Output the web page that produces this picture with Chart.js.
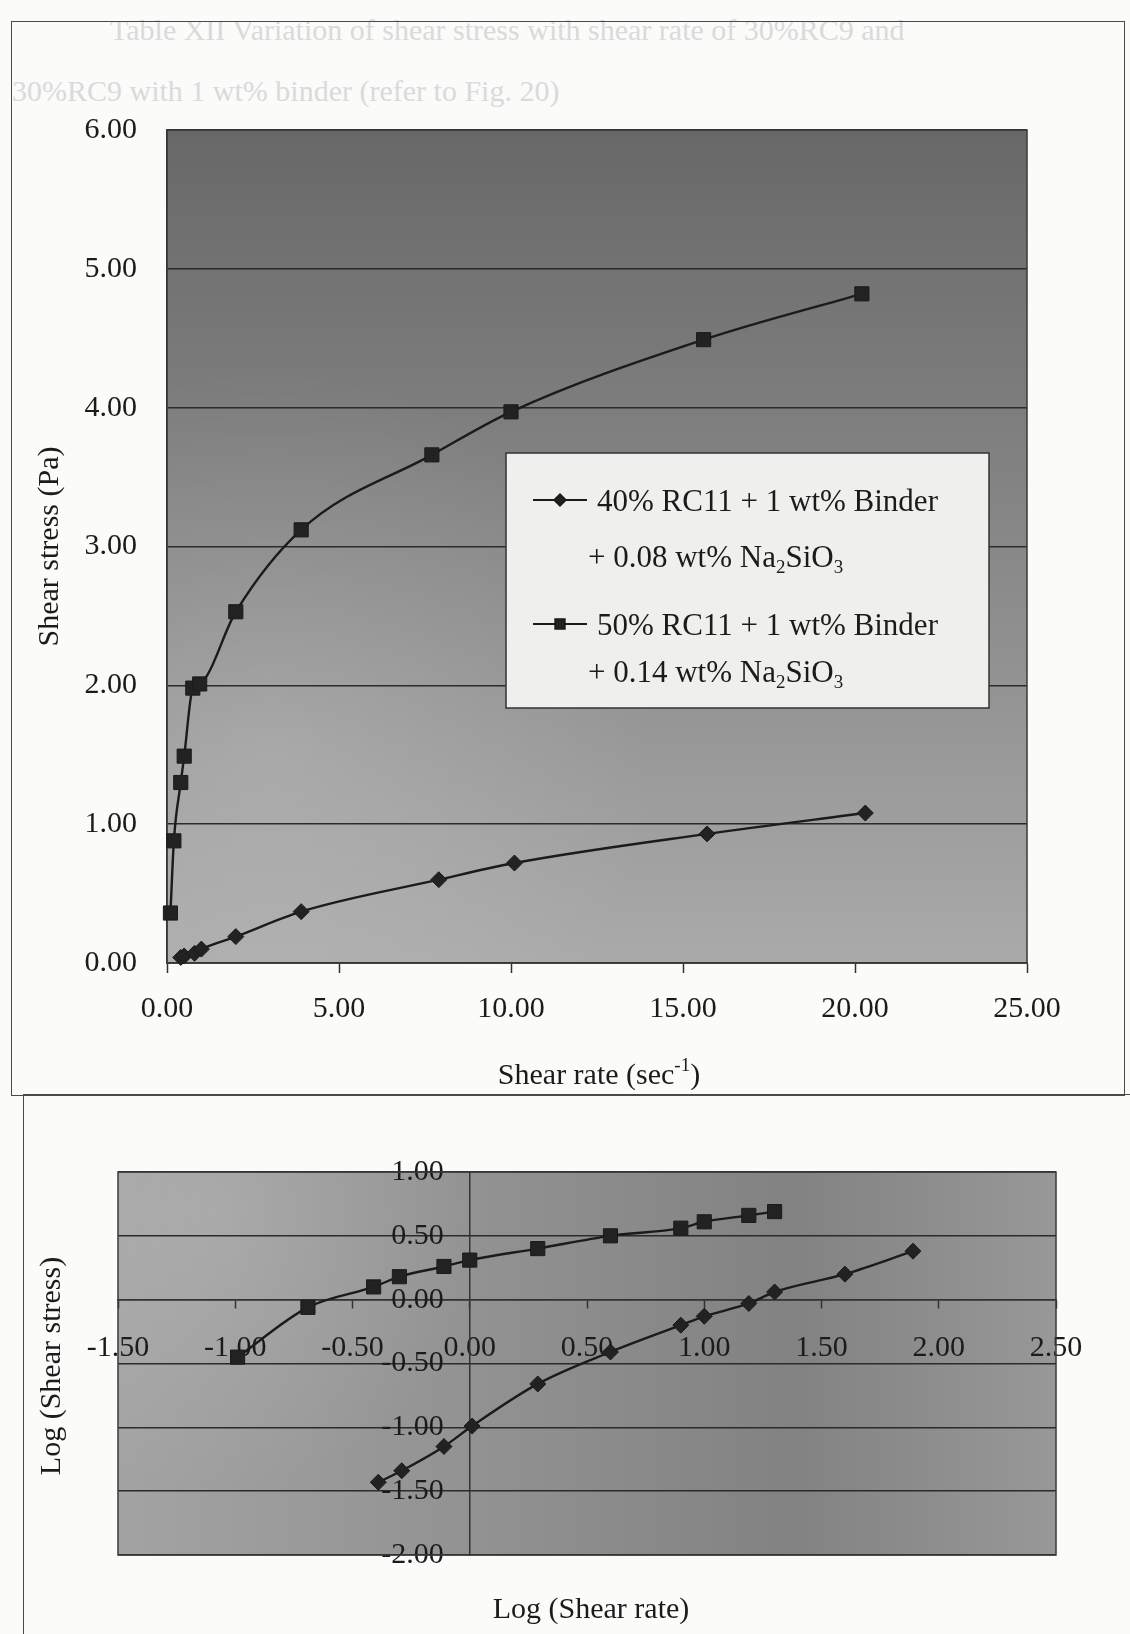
<!DOCTYPE html>
<html>
<head>
<meta charset="utf-8">
<script src="https://cdn.jsdelivr.net/npm/chart.js@4.4.1/dist/chart.umd.min.js"></script>
<style>
  html, body { margin: 0; padding: 0; background: #fbfbfa; }
  body { width: 1130px; height: 1634px; position: relative; overflow: hidden; font-family: "Liberation Serif", serif; }
  .ghost { position: absolute; color: #dadada; font-size: 30px; white-space: nowrap; }
  .frame { position: absolute; border: 1.5px solid #4a4a4a; box-sizing: border-box; }
  canvas { position: absolute; left: 0; }
</style>
</head>
<body>
<div class="ghost" style="left:110px;top:13px">Table XII Variation of shear stress with shear rate of 30%RC9 and</div>
<div class="ghost" style="left:12px;top:74px">30%RC9 with 1 wt% binder (refer to Fig. 20)</div>
<div class="frame" style="left:11px;top:21px;width:1114px;height:1075px"></div>
<div class="frame" style="left:23px;top:1094px;width:1120px;height:560px"></div>
<canvas id="linChart" width="1130" height="1095" style="top:0"></canvas>
<canvas id="logChart" width="1130" height="539" style="top:1095px"></canvas>

<script>
// shear stress (Pa) vs shear rate (1/s)
const rate40 = [0.4, 0.5, 0.8, 1.0, 2.0, 3.9, 7.9, 10.1, 15.7, 20.3];
const stress40 = [0.04, 0.05, 0.07, 0.10, 0.19, 0.37, 0.60, 0.72, 0.93, 1.08];
const rate50 = [0.1, 0.2, 0.4, 0.5, 0.75, 0.95, 2.0, 3.9, 7.7, 10.0, 15.6, 20.2];
const stress50 = [0.36, 0.88, 1.30, 1.49, 1.98, 2.01, 2.53, 3.12, 3.66, 3.97, 4.49, 4.82];

// log(shear stress) vs log(shear rate)
const logRate40 = [-0.39, -0.29, -0.11, 0.01, 0.29, 0.60, 0.90, 1.00, 1.19, 1.30, 1.60, 1.89];
const logStress40 = [-1.43, -1.34, -1.15, -0.99, -0.66, -0.41, -0.20, -0.13, -0.03, 0.06, 0.20, 0.38];
const logRate50 = [-0.99, -0.69, -0.41, -0.30, -0.11, 0.00, 0.29, 0.60, 0.90, 1.00, 1.19, 1.30];
const logStress50 = [-0.45, -0.06, 0.10, 0.18, 0.26, 0.31, 0.40, 0.50, 0.56, 0.61, 0.66, 0.69];

// legend text, "_n" = subscript
const seriesNames = [
  ["40% RC11 + 1 wt% Binder", "+ 0.08 wt% Na_2SiO_3"],
  ["50% RC11 + 1 wt% Binder", "+ 0.14 wt% Na_2SiO_3"],
];

const linXTicks = [0, 5, 10, 15, 20, 25];
const linYTicks = [0, 1, 2, 3, 4, 5, 6];
const logXTicks = [-1.5, -1, -0.5, 0, 0.5, 1, 1.5, 2, 2.5];
const logYTicks = [-2, -1.5, -1, -0.5, 0, 0.5, 1];

const INK = "#1b1b1b";
const FONT = '"Liberation Serif", "Times New Roman", serif';

function pts(xs, ys) {
  return xs.map((x, i) => ({ x, y: ys[i] }));
}

function fmt2(v) {
  return Number(v).toFixed(2);
}

function zeroPad(s) {
  s.paddingLeft = s.paddingRight = s.paddingTop = s.paddingBottom = 0;
}

// text with _2 subscripts and ^-1 superscripts
function drawRich(ctx, text, x, y, size, align) {
  const parts = text.split(/(_\d|\^-?\d+)/).filter(Boolean).map((p) =>
    p[0] === "_" ? { t: p.slice(1), k: "sub" } : p[0] === "^" ? { t: p.slice(1), k: "sup" } : { t: p, k: "" });
  const small = Math.round(size * 0.62);
  const fontFor = (k) => `${k ? small : size}px ${FONT}`;
  let w = 0;
  parts.forEach((p) => { ctx.font = fontFor(p.k); p.w = ctx.measureText(p.t).width; w += p.w; });
  let cx = align === "center" ? x - w / 2 : x;
  ctx.textAlign = "left";
  ctx.textBaseline = "alphabetic";
  parts.forEach((p) => {
    ctx.font = fontFor(p.k);
    const dy = p.k === "sub" ? size * 0.2 : p.k === "sup" ? -size * 0.45 : 0;
    ctx.fillText(p.t, cx, y + dy);
    cx += p.w;
  });
}

const plotShade = {
  id: "plotShade",
  beforeDraw(chart, args, o) {
    const { ctx, chartArea: a } = chart;
    ctx.save();
    const g = o.horizontal
      ? ctx.createLinearGradient(a.left, 0, a.right, 0)
      : ctx.createLinearGradient(0, a.top, 0, a.bottom);
    o.stops.forEach(([p, c]) => g.addColorStop(p, c));
    ctx.fillStyle = g;
    ctx.fillRect(a.left, a.top, a.width, a.height);
    if (o.spot) {
      const sx = a.left + o.spot.x * a.width, sy = a.top + o.spot.y * a.height;
      const r = ctx.createRadialGradient(sx, sy, 0, sx, sy, o.spot.r * a.width);
      r.addColorStop(0, o.spot.color);
      r.addColorStop(1, "rgba(255,255,255,0)");
      ctx.fillStyle = r;
      ctx.fillRect(a.left, a.top, a.width, a.height);
    }
    ctx.restore();
  },
  beforeDatasetsDraw(chart) {
    const { ctx, chartArea: a } = chart;
    ctx.save();
    ctx.strokeStyle = "#3a3a3a";
    ctx.lineWidth = 1.5;
    ctx.strokeRect(a.left, a.top, a.width, a.height);
    ctx.restore();
  },
};

const legendBox = {
  id: "legendBox",
  afterDatasetsDraw(chart, args, o) {
    if (!o.show) return;
    const { ctx } = chart;
    ctx.save();
    ctx.fillStyle = "#efefee";
    ctx.fillRect(o.left, o.top, o.width, o.height);
    ctx.strokeStyle = "#333";
    ctx.lineWidth = 1.5;
    ctx.strokeRect(o.left, o.top, o.width, o.height);
    seriesNames.forEach((lines, i) => {
      const ds = chart.data.datasets[i];
      const [y1, y2] = o.rows[i];
      ctx.strokeStyle = INK;
      ctx.lineWidth = 2.2;
      ctx.beginPath();
      ctx.moveTo(o.sampleFrom, y1);
      ctx.lineTo(o.sampleTo, y1);
      ctx.stroke();
      ctx.fillStyle = "#222";
      Chart.helpers.drawPoint(ctx, { pointStyle: ds.pointStyle, radius: o.markerRadius[i], borderWidth: 1 },
        (o.sampleFrom + o.sampleTo) / 2, y1);
      ctx.fillStyle = INK;
      drawRich(ctx, lines[0], o.textX, y1 + 11, o.size);
      drawRich(ctx, lines[1], o.textX2, y2 + 11, o.size);
    });
    ctx.restore();
  },
};

const axisTitles = {
  id: "axisTitles",
  afterDraw(chart, args, o) {
    const { ctx } = chart;
    ctx.save();
    ctx.fillStyle = INK;
    if (o.x) drawRich(ctx, o.x.text, o.x.cx, o.x.cy + 10, o.size, "center");
    if (o.y) {
      ctx.translate(o.y.cx, o.y.cy);
      ctx.rotate(-Math.PI / 2);
      drawRich(ctx, o.y.text, 0, 10, o.size, "center");
    }
    ctx.restore();
  },
};

// labels of an axis placed at x = 0 sit flush on the line; move them off it
const nudgeYLabels = {
  id: "nudgeYLabels",
  beforeDraw(chart, args, o) {
    for (const it of chart.scales.y.getLabelItems()) {
      if (!it._nudged) {
        it.options.translation[0] -= o.shift;
        it._nudged = true;
      }
    }
  },
};

function series(data, style, radius) {
  return {
    data,
    showLine: true,
    borderColor: INK,
    borderWidth: 2.4,
    pointStyle: style,
    pointRadius: radius,
    pointBackgroundColor: "#222",
    pointBorderColor: INK,
    pointBorderWidth: 1,
    cubicInterpolationMode: "monotone",
    clip: false,
  };
}

const tickFont = { family: FONT, size: 30 };

new Chart(document.getElementById("linChart"), {
  type: "scatter",
  data: {
    datasets: [
      series(pts(rate40, stress40), "rectRot", 8),
      series(pts(rate50, stress50), "rect", 10),
    ],
  },
  options: {
    responsive: false,
    animation: false,
    devicePixelRatio: 1,
    layout: { padding: { left: 20, right: 103, top: 130, bottom: 0 } },
    plugins: {
      legend: { display: false },
      tooltip: { enabled: false },
      plotShade: {
        stops: [[0, "#686868"], [0.3, "#7b7b7b"], [0.65, "#929292"], [1, "#aaaaaa"]],
        spot: { x: 0.12, y: 0.75, r: 0.45, color: "rgba(255,255,255,0.16)" },
      },
      legendBox: {
        show: true, left: 506, top: 453, width: 483, height: 255,
        rows: [[500, 556], [624, 671]],
        sampleFrom: 533, sampleTo: 587, markerRadius: [5.5, 6.5],
        textX: 597, textX2: 588, size: 31,
      },
      axisTitles: { size: 30, x: { text: "Shear rate (sec^-1)", cx: 599, cy: 1074 } },
    },
    scales: {
      x: {
        type: "linear",
        min: linXTicks[0],
        max: linXTicks[linXTicks.length - 1],
        afterBuildTicks: (s) => { s.ticks = linXTicks.map((v) => ({ value: v })); },
        ticks: { callback: fmt2, color: INK, font: tickFont, padding: 18, maxRotation: 0, autoSkip: false },
        grid: { drawOnChartArea: false, drawTicks: true, tickLength: 10, tickColor: "#333", tickWidth: 1.5 },
        border: { color: "#333", width: 1.5 },
        afterFit: (s) => { s.height = 132; zeroPad(s); },
      },
      y: {
        type: "linear",
        min: linYTicks[0],
        max: linYTicks[linYTicks.length - 1],
        afterBuildTicks: (s) => { s.ticks = linYTicks.map((v) => ({ value: v })); },
        ticks: { callback: fmt2, color: INK, font: tickFont, padding: 30, autoSkip: false },
        grid: { color: "#2b2b2b", lineWidth: 1.5, drawTicks: false },
        border: { color: "#333", width: 1.5 },
        title: {
          display: true, text: "Shear stress (Pa)", color: INK,
          font: { family: FONT, size: 30 }, padding: { top: 12, bottom: 0 },
        },
        afterFit: (s) => { s.width = 147; zeroPad(s); },
      },
    },
  },
  plugins: [plotShade, legendBox, axisTitles],
});

new Chart(document.getElementById("logChart"), {
  type: "scatter",
  data: {
    datasets: [
      series(pts(logRate40, logStress40), "rectRot", 8),
      series(pts(logRate50, logStress50), "rect", 10),
    ],
  },
  options: {
    responsive: false,
    animation: false,
    devicePixelRatio: 1,
    layout: { padding: { left: 118, right: 74, top: 77, bottom: 79 } },
    plugins: {
      legend: { display: false },
      tooltip: { enabled: false },
      plotShade: {
        horizontal: true,
        stops: [[0, "#a3a3a3"], [0.4, "#919191"], [0.72, "#828282"], [1, "#989898"]],
        spot: { x: 0.1, y: 0.1, r: 0.3, color: "rgba(255,255,255,0.12)" },
      },
      legendBox: { show: false },
      nudgeYLabels: { shift: 26 },
      axisTitles: {
        size: 30,
        x: { text: "Log (Shear rate)", cx: 591, cy: 513 },
        y: { text: "Log (Shear stress)", cx: 50, cy: 271 },
      },
    },
    scales: {
      x: {
        type: "linear",
        position: { y: 0 },
        min: logXTicks[0],
        max: logXTicks[logXTicks.length - 1],
        afterBuildTicks: (s) => { s.ticks = logXTicks.map((v) => ({ value: v })); },
        ticks: { callback: fmt2, color: INK, font: tickFont, padding: 22, maxRotation: 0, autoSkip: false },
        grid: { drawOnChartArea: false, drawTicks: true, tickLength: 8, tickColor: "#333", tickWidth: 1.5 },
        border: { color: "#333", width: 1.5 },
        afterFit: zeroPad,
      },
      y: {
        type: "linear",
        position: { x: 0 },
        min: logYTicks[0],
        max: logYTicks[logYTicks.length - 1],
        afterBuildTicks: (s) => { s.ticks = logYTicks.map((v) => ({ value: v })); },
        ticks: { callback: fmt2, color: INK, font: tickFont, padding: 0, autoSkip: false },
        grid: { color: "#2b2b2b", lineWidth: 1.5, drawTicks: false },
        border: { color: "#333", width: 1.5 },
        afterFit: zeroPad,
      },
    },
  },
  plugins: [plotShade, nudgeYLabels, axisTitles],
});
</script>
</body>
</html>
